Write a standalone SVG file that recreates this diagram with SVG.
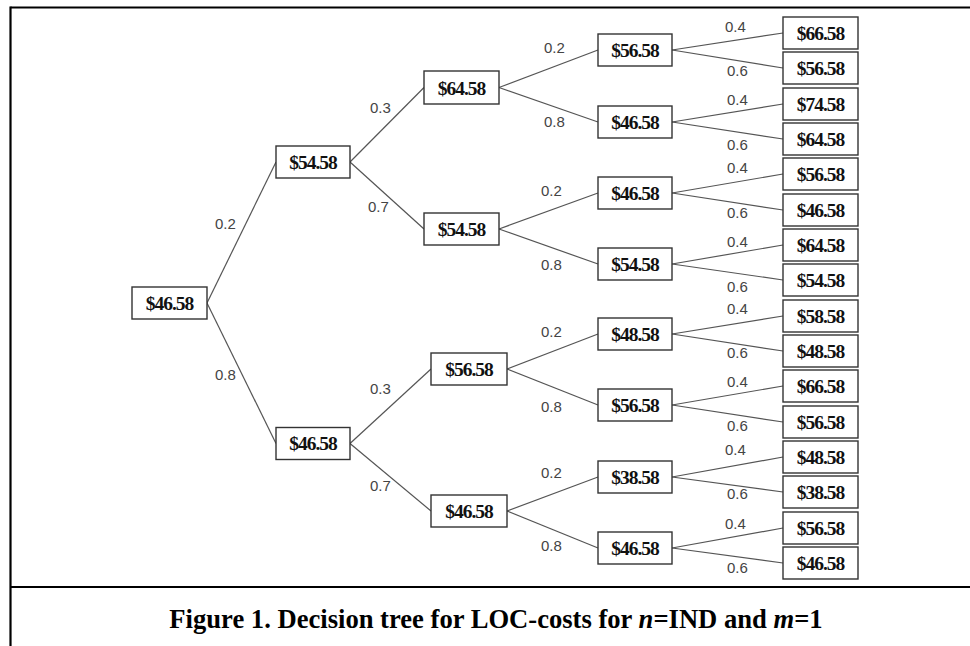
<svg xmlns="http://www.w3.org/2000/svg" width="970" height="646" viewBox="0 0 970 646">
<style>
.frame{stroke:#000;stroke-width:2.2;fill:none}
.box{fill:#fff;stroke:#333;stroke-width:1.4}
.val{font-family:"Liberation Serif",serif;font-weight:bold;font-size:19.5px;letter-spacing:-1px;fill:#111;text-anchor:middle}
.edge{stroke:#555;stroke-width:1.2;fill:none}
.p{font-family:"Liberation Sans",Arial,sans-serif;font-size:15px;fill:#444}
.cap{font-family:"Liberation Serif",serif;font-weight:bold;font-size:26.6px;fill:#000}
</style>
<rect width="970" height="646" fill="#fff"/>
<g id="frame">
<line class="frame" x1="10.5" y1="7.5" x2="970" y2="7.5"/>
<line class="frame" x1="10.5" y1="6.5" x2="10.5" y2="646"/>
<line class="frame" x1="10" y1="587" x2="970" y2="587"/>
</g>
<g id="connectors">
<line class="edge" x1="207" y1="303" x2="276" y2="162"/>
<line class="edge" x1="207" y1="303" x2="276" y2="443.5"/>
<line class="edge" x1="350" y1="162" x2="424" y2="87.5"/>
<line class="edge" x1="350" y1="162" x2="424" y2="229"/>
<line class="edge" x1="350" y1="443.5" x2="431" y2="369"/>
<line class="edge" x1="350" y1="443.5" x2="431" y2="511"/>
<line class="edge" x1="499" y1="87.5" x2="598" y2="50"/>
<line class="edge" x1="499" y1="87.5" x2="598" y2="122"/>
<line class="edge" x1="499" y1="229" x2="598" y2="193"/>
<line class="edge" x1="499" y1="229" x2="598" y2="264"/>
<line class="edge" x1="507" y1="369" x2="598" y2="334"/>
<line class="edge" x1="507" y1="369" x2="598" y2="405"/>
<line class="edge" x1="507" y1="511" x2="598" y2="477"/>
<line class="edge" x1="507" y1="511" x2="598" y2="548"/>
<line class="edge" x1="672" y1="50" x2="783" y2="33"/>
<line class="edge" x1="672" y1="50" x2="783" y2="68"/>
<line class="edge" x1="672" y1="122" x2="783" y2="104"/>
<line class="edge" x1="672" y1="122" x2="783" y2="139"/>
<line class="edge" x1="672" y1="193" x2="783" y2="174"/>
<line class="edge" x1="672" y1="193" x2="783" y2="210"/>
<line class="edge" x1="672" y1="264" x2="783" y2="245"/>
<line class="edge" x1="672" y1="264" x2="783" y2="280"/>
<line class="edge" x1="672" y1="334" x2="783" y2="316"/>
<line class="edge" x1="672" y1="334" x2="783" y2="351"/>
<line class="edge" x1="672" y1="405" x2="783" y2="386"/>
<line class="edge" x1="672" y1="405" x2="783" y2="422"/>
<line class="edge" x1="672" y1="477" x2="783" y2="457"/>
<line class="edge" x1="672" y1="477" x2="783" y2="492"/>
<line class="edge" x1="672" y1="548" x2="783" y2="528"/>
<line class="edge" x1="672" y1="548" x2="783" y2="563"/>
</g>
<g id="edge-labels">
<text class="p" x="215" y="229">0.2</text>
<text class="p" x="215" y="380">0.8</text>
<text class="p" x="370" y="113">0.3</text>
<text class="p" x="368" y="212">0.7</text>
<text class="p" x="370" y="394">0.3</text>
<text class="p" x="370" y="491">0.7</text>
<text class="p" x="544" y="53">0.2</text>
<text class="p" x="544" y="127">0.8</text>
<text class="p" x="541" y="196">0.2</text>
<text class="p" x="541" y="270">0.8</text>
<text class="p" x="541" y="337">0.2</text>
<text class="p" x="541" y="412">0.8</text>
<text class="p" x="541" y="478">0.2</text>
<text class="p" x="541" y="551">0.8</text>
<text class="p" x="725" y="32">0.4</text>
<text class="p" x="727" y="76">0.6</text>
<text class="p" x="727" y="105">0.4</text>
<text class="p" x="727" y="150">0.6</text>
<text class="p" x="727" y="173">0.4</text>
<text class="p" x="727" y="218">0.6</text>
<text class="p" x="727" y="247">0.4</text>
<text class="p" x="727" y="292">0.6</text>
<text class="p" x="727" y="314">0.4</text>
<text class="p" x="727" y="358">0.6</text>
<text class="p" x="727" y="387">0.4</text>
<text class="p" x="727" y="431">0.6</text>
<text class="p" x="725" y="455">0.4</text>
<text class="p" x="727" y="499">0.6</text>
<text class="p" x="725" y="529">0.4</text>
<text class="p" x="727" y="573">0.6</text>
</g>
<g id="n-root"><rect class="box" x="132" y="287" width="75" height="32"/><text class="val" x="169.5" y="309.5">$46.58</text></g>
<g id="n-a"><rect class="box" x="276" y="146" width="74" height="32"/><text class="val" x="313" y="168.5">$54.58</text></g>
<g id="n-b"><rect class="box" x="276" y="427.5" width="74" height="32"/><text class="val" x="313" y="450">$46.58</text></g>
<g id="n-a1"><rect class="box" x="424" y="71" width="75" height="33"/><text class="val" x="461.5" y="94.5">$64.58</text></g>
<g id="n-a2"><rect class="box" x="424" y="213" width="75" height="32"/><text class="val" x="461.5" y="235.5">$54.58</text></g>
<g id="n-b1"><rect class="box" x="431" y="353" width="76" height="32"/><text class="val" x="469" y="375.5">$56.58</text></g>
<g id="n-b2"><rect class="box" x="431" y="495" width="76" height="32"/><text class="val" x="469" y="517.5">$46.58</text></g>
<g id="n-a1a"><rect class="box" x="598" y="34" width="74" height="32"/><text class="val" x="635" y="56.5">$56.58</text></g>
<g id="n-a1b"><rect class="box" x="598" y="106" width="74" height="32"/><text class="val" x="635" y="128.5">$46.58</text></g>
<g id="n-a2a"><rect class="box" x="598" y="177" width="74" height="32"/><text class="val" x="635" y="199.5">$46.58</text></g>
<g id="n-a2b"><rect class="box" x="598" y="248" width="74" height="32"/><text class="val" x="635" y="270.5">$54.58</text></g>
<g id="n-b1a"><rect class="box" x="598" y="318" width="74" height="32"/><text class="val" x="635" y="340.5">$48.58</text></g>
<g id="n-b1b"><rect class="box" x="598" y="389" width="74" height="32"/><text class="val" x="635" y="411.5">$56.58</text></g>
<g id="n-b2a"><rect class="box" x="598" y="461" width="74" height="32"/><text class="val" x="635" y="483.5">$38.58</text></g>
<g id="n-b2b"><rect class="box" x="598" y="532" width="74" height="32"/><text class="val" x="635" y="554.5">$46.58</text></g>
<g id="leaf-1"><rect class="box" x="783" y="17" width="75" height="32"/><text class="val" x="820.5" y="39.5">$66.58</text></g>
<g id="leaf-2"><rect class="box" x="783" y="52" width="75" height="32"/><text class="val" x="820.5" y="74.5">$56.58</text></g>
<g id="leaf-3"><rect class="box" x="783" y="88" width="75" height="32"/><text class="val" x="820.5" y="110.5">$74.58</text></g>
<g id="leaf-4"><rect class="box" x="783" y="123" width="75" height="32"/><text class="val" x="820.5" y="145.5">$64.58</text></g>
<g id="leaf-5"><rect class="box" x="783" y="158" width="75" height="32"/><text class="val" x="820.5" y="180.5">$56.58</text></g>
<g id="leaf-6"><rect class="box" x="783" y="194" width="75" height="32"/><text class="val" x="820.5" y="216.5">$46.58</text></g>
<g id="leaf-7"><rect class="box" x="783" y="229" width="75" height="32"/><text class="val" x="820.5" y="251.5">$64.58</text></g>
<g id="leaf-8"><rect class="box" x="783" y="264" width="75" height="32"/><text class="val" x="820.5" y="286.5">$54.58</text></g>
<g id="leaf-9"><rect class="box" x="783" y="300" width="75" height="32"/><text class="val" x="820.5" y="322.5">$58.58</text></g>
<g id="leaf-10"><rect class="box" x="783" y="335" width="75" height="32"/><text class="val" x="820.5" y="357.5">$48.58</text></g>
<g id="leaf-11"><rect class="box" x="783" y="370" width="75" height="32"/><text class="val" x="820.5" y="392.5">$66.58</text></g>
<g id="leaf-12"><rect class="box" x="783" y="406" width="75" height="32"/><text class="val" x="820.5" y="428.5">$56.58</text></g>
<g id="leaf-13"><rect class="box" x="783" y="441" width="75" height="32"/><text class="val" x="820.5" y="463.5">$48.58</text></g>
<g id="leaf-14"><rect class="box" x="783" y="476" width="75" height="32"/><text class="val" x="820.5" y="498.5">$38.58</text></g>
<g id="leaf-15"><rect class="box" x="783" y="512" width="75" height="32"/><text class="val" x="820.5" y="534.5">$56.58</text></g>
<g id="leaf-16"><rect class="box" x="783" y="547" width="75" height="32"/><text class="val" x="820.5" y="569.5">$46.58</text></g>
<text class="cap" x="496" y="628" text-anchor="middle">Figure 1. Decision tree for LOC-costs for <tspan font-style="italic">n</tspan>=IND and <tspan font-style="italic">m</tspan>=1</text>
</svg>
